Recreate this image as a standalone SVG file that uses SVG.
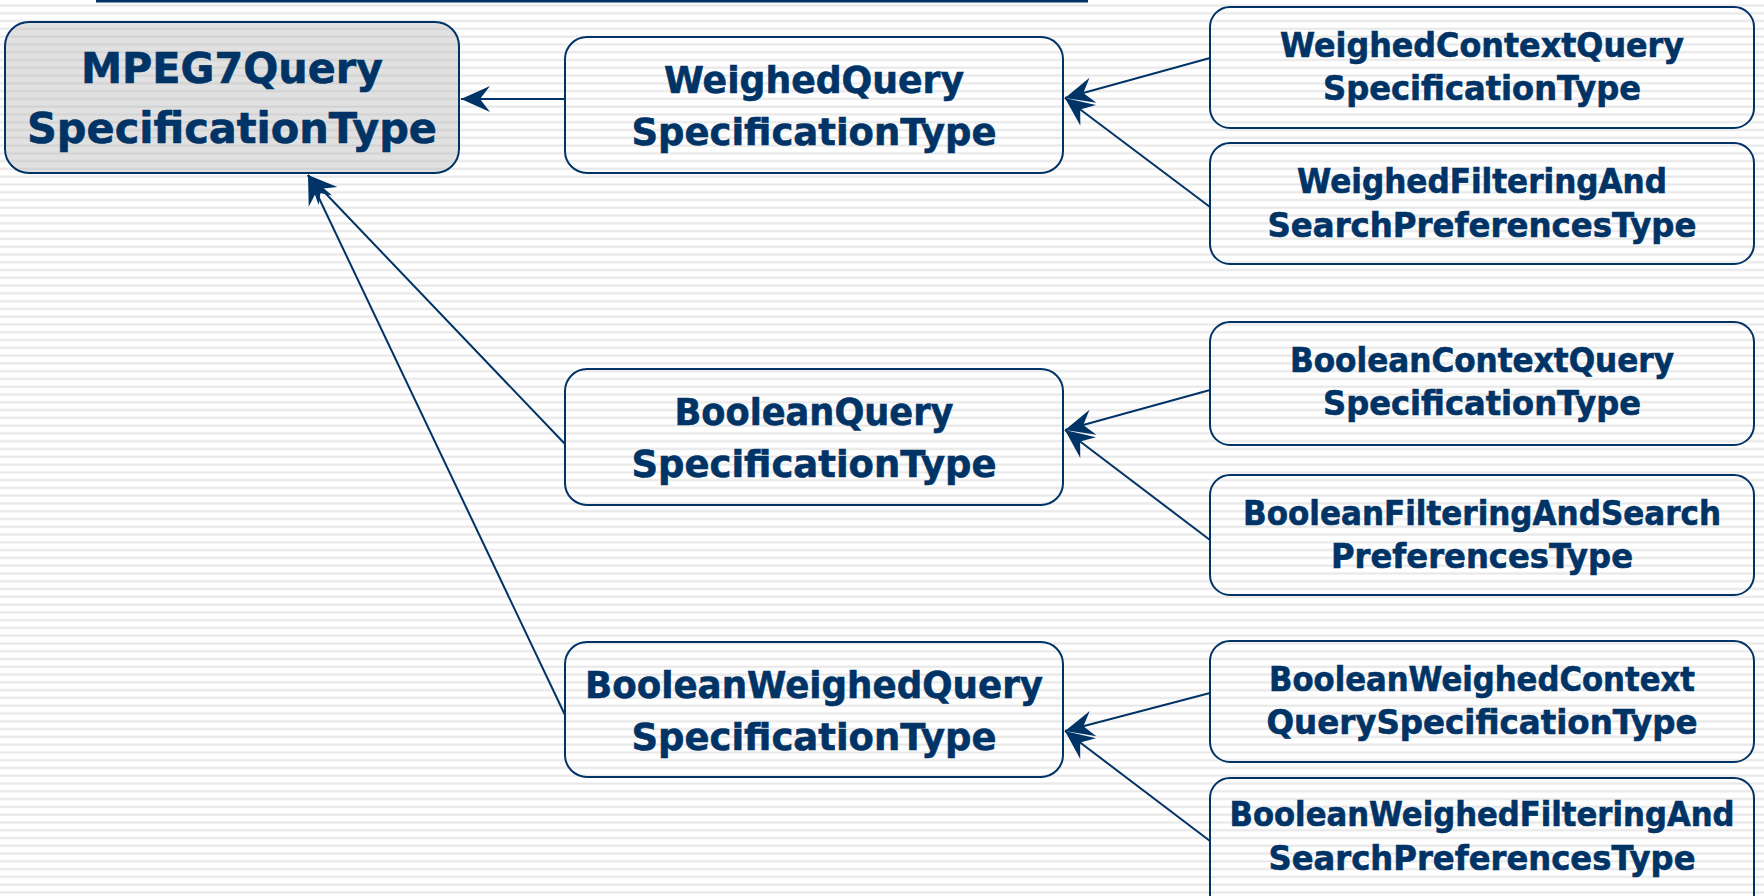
<svg xmlns="http://www.w3.org/2000/svg" width="1764" height="896" viewBox="0 0 1764 896">
  <defs>
    <!-- ruled background -->
    <pattern id="rules" patternUnits="userSpaceOnUse" x="0" y="0" width="20" height="7.78">
      <rect x="0" y="0" width="20" height="7.78" fill="#ffffff"/>
      <rect x="0" y="4.2" width="20" height="2.6" fill="#f0f0f0"/>
      <rect x="0" y="5" width="20" height="1.1" fill="#e6e6e6"/>
    </pattern>
    <pattern id="rulesGrey" patternUnits="userSpaceOnUse" x="0" y="0" width="20" height="7.78">
      <rect x="0" y="0" width="20" height="7.78" fill="#e1e1e1"/>
      <rect x="0" y="4.2" width="20" height="2.6" fill="#d9d9d9"/>
      <rect x="0" y="5" width="20" height="1.1" fill="#d1d1d1"/>
    </pattern>
    <marker id="arrow" markerUnits="userSpaceOnUse" markerWidth="34" markerHeight="30"
            viewBox="-31 -15 33 30" refX="0" refY="0" orient="auto">
      <path d="M0,0 L-29,-13 L-19,0 L-29,13 Z" fill="#003366"/>
    </marker>
  </defs>
  <style>
    .box { fill: none; stroke: #003366; stroke-width: 2; }
    .root { fill: url(#rulesGrey); stroke: #003366; stroke-width: 2; }
    .lbl { font-family: "Comic Sans MS", "DejaVu Sans", sans-serif; font-weight: bold; fill: #003366; text-anchor: middle; stroke: #003366; stroke-width: 0.6; }
    .big { font-size: 42px; }
    .mid { font-size: 38px; }
    .sm { font-size: 33px; }
    .conn { stroke: #003366; stroke-width: 2; fill: none; marker-end: url(#arrow); }
  </style>

  <rect x="0" y="0" width="1764" height="896" fill="url(#rules)"/>
  <!-- title rule -->
  <rect x="96" y="0" width="992" height="2.5" fill="#003366"/>

  <g id="connectors">
    <line class="conn" x1="565" y1="99" x2="461" y2="99"/>
    <line class="conn" x1="565" y1="444" x2="308" y2="175"/>
    <line class="conn" x1="565" y1="715" x2="308" y2="175"/>
    <line class="conn" x1="1210" y1="58" x2="1065" y2="98"/>
    <line class="conn" x1="1210" y1="207" x2="1065" y2="98"/>
    <line class="conn" x1="1210" y1="390" x2="1065" y2="430"/>
    <line class="conn" x1="1210" y1="540" x2="1065" y2="430"/>
    <line class="conn" x1="1210" y1="693" x2="1065" y2="731"/>
    <line class="conn" x1="1210" y1="841" x2="1065" y2="731"/>
  </g>

  <g id="mpeg7-query">
    <rect class="root" x="5" y="22" width="454" height="151" rx="24"/>
    <text class="lbl big" x="232" y="83" textLength="302" lengthAdjust="spacingAndGlyphs">MPEG7Query</text>
    <text class="lbl big" x="232" y="143" textLength="410" lengthAdjust="spacingAndGlyphs">SpecificationType</text>
  </g>

  <g id="weighed-query">
    <rect class="box" x="565" y="37" width="498" height="136" rx="22"/>
    <text class="lbl mid" x="814" y="93" textLength="300" lengthAdjust="spacingAndGlyphs">WeighedQuery</text>
    <text class="lbl mid" x="814" y="145" textLength="365" lengthAdjust="spacingAndGlyphs">SpecificationType</text>
  </g>

  <g id="boolean-query">
    <rect class="box" x="565" y="369" width="498" height="136" rx="22"/>
    <text class="lbl mid" x="814" y="425" textLength="279" lengthAdjust="spacingAndGlyphs">BooleanQuery</text>
    <text class="lbl mid" x="814" y="477" textLength="365" lengthAdjust="spacingAndGlyphs">SpecificationType</text>
  </g>

  <g id="boolean-weighed-query">
    <rect class="box" x="565" y="642" width="498" height="135" rx="22"/>
    <text class="lbl mid" x="814" y="698" textLength="458" lengthAdjust="spacingAndGlyphs">BooleanWeighedQuery</text>
    <text class="lbl mid" x="814" y="750" textLength="365" lengthAdjust="spacingAndGlyphs">SpecificationType</text>
  </g>

  <g id="weighed-context-query">
    <rect class="box" x="1210" y="7" width="544" height="121" rx="20"/>
    <text class="lbl sm" x="1482" y="57" textLength="404" lengthAdjust="spacingAndGlyphs">WeighedContextQuery</text>
    <text class="lbl sm" x="1482" y="100" textLength="318" lengthAdjust="spacingAndGlyphs">SpecificationType</text>
  </g>

  <g id="weighed-filtering">
    <rect class="box" x="1210" y="143" width="544" height="121" rx="20"/>
    <text class="lbl sm" x="1482" y="193" textLength="370" lengthAdjust="spacingAndGlyphs">WeighedFilteringAnd</text>
    <text class="lbl sm" x="1482" y="237" textLength="429" lengthAdjust="spacingAndGlyphs">SearchPreferencesType</text>
  </g>

  <g id="boolean-context-query">
    <rect class="box" x="1210" y="322" width="544" height="123" rx="20"/>
    <text class="lbl sm" x="1482" y="372" textLength="384" lengthAdjust="spacingAndGlyphs">BooleanContextQuery</text>
    <text class="lbl sm" x="1482" y="415" textLength="318" lengthAdjust="spacingAndGlyphs">SpecificationType</text>
  </g>

  <g id="boolean-filtering">
    <rect class="box" x="1210" y="475" width="544" height="120" rx="20"/>
    <text class="lbl sm" x="1482" y="525" textLength="478" lengthAdjust="spacingAndGlyphs">BooleanFilteringAndSearch</text>
    <text class="lbl sm" x="1482" y="568" textLength="302" lengthAdjust="spacingAndGlyphs">PreferencesType</text>
  </g>

  <g id="boolean-weighed-context-query">
    <rect class="box" x="1210" y="641" width="544" height="121" rx="20"/>
    <text class="lbl sm" x="1482" y="691" textLength="426" lengthAdjust="spacingAndGlyphs">BooleanWeighedContext</text>
    <text class="lbl sm" x="1482" y="734" textLength="431" lengthAdjust="spacingAndGlyphs">QuerySpecificationType</text>
  </g>

  <g id="boolean-weighed-filtering">
    <rect class="box" x="1210" y="778" width="544" height="140" rx="20"/>
    <text class="lbl sm" x="1482" y="826" textLength="505" lengthAdjust="spacingAndGlyphs">BooleanWeighedFilteringAnd</text>
    <text class="lbl sm" x="1482" y="870" textLength="427" lengthAdjust="spacingAndGlyphs">SearchPreferencesType</text>
  </g>
</svg>
